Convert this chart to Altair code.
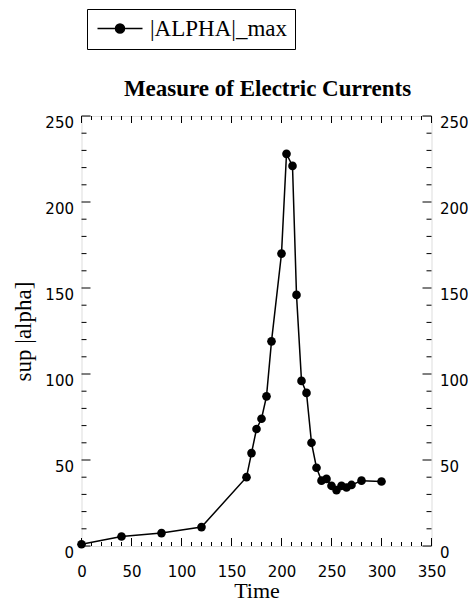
import altair as alt
import pandas as pd

# ---- data ----
TIME = [0, 40, 80, 120, 165, 170, 175, 180, 185, 190, 200, 205, 211, 215, 220, 225,
        230, 235, 240, 245, 250, 255, 260, 265, 270, 280, 300]
ALPHA = [1, 5.5, 7.5, 11, 40, 54, 68, 74, 87, 119, 170, 228, 221, 146, 96, 89,
         60, 45.5, 38, 39, 35, 32.5, 35, 34, 35.5, 38, 37.5]
SERIES = "|ALPHA|_max"

X_MAJOR = [0, 50, 100, 150, 200, 250, 300, 350]
X_MINOR = [v for v in range(0, 351, 10) if v % 50 != 0]
Y_MAJOR = [0, 50, 100, 150, 200, 250]
Y_MINOR = [v for v in range(0, 251, 10) if v % 50 != 0]

W, H = 350, 430
PAD_L, PAD_T, PAD_R, PAD_B = 73.5, 108, 36.5, 57
SERIF = "Liberation Serif"
SANS = "DejaVu Sans"
LBL = 15
LEG_X, LEG_Y = 5.5, -107

xs = alt.Scale(domain=[0, 350], nice=False, zero=False)
ys = alt.Scale(domain=[0, 250], nice=False, zero=False)

df = pd.DataFrame({"Time": TIME, "alpha": ALPHA, "series": [SERIES] * len(TIME)})

x_axis = alt.Axis(values=X_MAJOR, ticks=False, domain=False, grid=False,
                  labelFont=SANS, labelFontSize=LBL, labelPadding=18, labelAngle=0,
                  labelColor="black", labelFlush=False,
                  title="Time", titleFont=SERIF, titleFontSize=22, titleFontWeight="normal",
                  titleColor="black", titlePadding=1)
y_left = alt.Axis(values=Y_MAJOR, ticks=False, domain=False, grid=False,
                  labelFont=SANS, labelFontSize=LBL, labelPadding=8, labelOffset=6,
                  labelColor="black", labelFlush=False,
                  title="sup |alpha]", titleFont=SERIF, titleFontSize=23,
                  titleFontWeight="normal", titleColor="black", titlePadding=9)
y_right = alt.Axis(orient="right", values=Y_MAJOR, ticks=False, domain=False, grid=False,
                   labelFont=SANS, labelFontSize=LBL, labelPadding=8, labelOffset=6,
                   labelColor="black", labelFlush=False, title=None)

SYMBOL = "M-1,0L4,0M1,0A0.5,0.5,0,1,0,2,0A0.5,0.5,0,1,0,1,0Z"

line = alt.Chart(df).mark_line(color="black", strokeWidth=1.5).encode(
    x=alt.X("Time:Q", scale=xs, axis=x_axis),
    y=alt.Y("alpha:Q", scale=ys, axis=y_left),
)
pts = alt.Chart(df).mark_point(filled=True, size=75, opacity=1).encode(
    x=alt.X("Time:Q", scale=xs, axis=x_axis),
    y=alt.Y("alpha:Q", scale=ys, axis=y_right),
    color=alt.Color("series:N", scale=alt.Scale(range=["black"]),
                    legend=alt.Legend(title=None, orient="none", legendX=LEG_X, legendY=LEG_Y,
                                      symbolType=SYMBOL, symbolSize=324,
                                      symbolFillColor="black", symbolStrokeColor="black",
                                      symbolStrokeWidth=1.5, labelFont=SERIF,
                                      labelFontSize=23, labelColor="black", labelOffset=32,
                                      strokeColor="black", fillColor="white", padding=8)),
)

def xticks(vals, y0, y1):
    return alt.Chart(pd.DataFrame({"t": vals})).mark_rule(color="black", strokeWidth=1).encode(
        x=alt.X("t:Q", scale=xs, axis=x_axis), y=alt.value(y0), y2=alt.value(y1))

def yticks(vals, x0, x1):
    return alt.Chart(pd.DataFrame({"t": vals})).mark_rule(color="black", strokeWidth=1).encode(
        y=alt.Y("t:Q", scale=ys, axis=None), x=alt.value(x0), x2=alt.value(x1))

ticks = [
    xticks(X_MAJOR, H, H - 8), xticks(X_MINOR, H, H - 4),
    xticks(X_MAJOR, 0, 7), xticks(X_MINOR, 0, 4),
    yticks(Y_MAJOR, 0, 9), yticks(Y_MINOR, 0, 5),
    yticks(Y_MAJOR, W, W - 9), yticks(Y_MINOR, W, W - 5),
]

chart = alt.layer(line, pts, *ticks).resolve_axis(y="independent").properties(
    width=W, height=H,
    autosize="none",
    padding={"left": PAD_L, "top": PAD_T, "right": PAD_R, "bottom": PAD_B},
    title=alt.TitleParams("Measure of Electric Currents", font=SERIF, fontSize=23,
                          fontWeight="bold", color="black", anchor="middle",
                          frame="group", baseline="alphabetic", offset=-110, dx=11),
).configure_view(stroke="black", strokeWidth=1).configure(background="white")

chart.save("out.html", embed_options={"renderer": "svg", "actions": False})
